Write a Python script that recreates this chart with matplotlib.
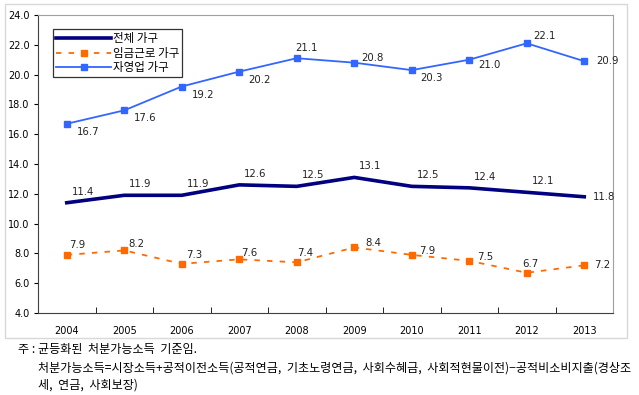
import matplotlib
matplotlib.use("Agg")
import matplotlib.pyplot as plt
from matplotlib.patches import Rectangle
from matplotlib.ticker import FixedLocator

plt.rcParams['font.family'] = ['Noto Sans CJK KR', 'DejaVu Sans']

years = ['2004', '2005', '2006', '2007', '2008', '2009', '2010', '2011', '2012', '2013']
total = [11.4, 11.9, 11.9, 12.6, 12.5, 13.1, 12.5, 12.4, 12.1, 11.8]
wage = [7.9, 8.2, 7.3, 7.6, 7.4, 8.4, 7.9, 7.5, 6.7, 7.2]
self_emp = [16.7, 17.6, 19.2, 20.2, 21.1, 20.8, 20.3, 21.0, 22.1, 20.9]
series_names = ['전체 가구', '임금근로 가구', '자영업 가구']
yticks = [4, 6, 8, 10, 12, 14, 16, 18, 20, 22, 24]

# label offsets in pixels (dx, dy) - layout only
off_total = [(16, 11)] * 9 + [(20, 0)]
off_wage = [(10, 10), (12, 6), (12, 9), (10, 6), (8, 9), (19, 4), (15, 4), (16, 4), (4, 9), (18, 0)]
off_self = [(21, -8), (21, -8), (21, -8), (20, -8), (10, 10), (18, 5), (20, -8), (20, -5), (18, 7), (23, 0)]

navy = '#000080'
orange = '#FF6A00'
blue = '#3366FF'

fig = plt.figure(figsize=(6.39, 3.95), dpi=100)
fig.patches.append(Rectangle((5 / 639, 1 - 338 / 395), 622 / 639, 334 / 395,
                             transform=fig.transFigure, fill=False,
                             edgecolor='#d8d8d8', linewidth=1))
ax = fig.add_axes([38 / 639, 1 - 313 / 395, 575 / 639, 298 / 395])

x = list(range(len(years)))
ax.plot(x, total, color=navy, linewidth=2.6, label=series_names[0])
ax.plot(x, wage, color=orange, linewidth=1.3, linestyle=(0, (3, 4)),
        marker='s', markersize=4, label=series_names[1])
ax.plot(x, self_emp, color=blue, linewidth=1.3, marker='s', markersize=4,
        label=series_names[2])

for vals, offs in [(total, off_total), (wage, off_wage), (self_emp, off_self)]:
    for i, v in enumerate(vals):
        dx, dy = offs[i]
        ax.annotate(f'{v:.1f}', (i, v), xytext=(dx * 0.72, dy * 0.72),
                    textcoords='offset points', ha='center', va='center',
                    fontsize=7.3, family='DejaVu Sans', color='#222222')

ax.set_xlim(-0.5, len(years) - 0.5)
ax.set_ylim(4, 24)
ax.set_yticks(yticks)
ax.set_yticklabels([f'{t:.1f}' for t in yticks], family='DejaVu Sans', fontsize=7)
ax.set_xticks(x)
ax.set_xticklabels(years, family='DejaVu Sans', fontsize=7)
ax.xaxis.set_minor_locator(FixedLocator([i + 0.5 for i in range(len(years) - 1)]))
ax.tick_params(axis='x', which='major', length=0, pad=9)
ax.tick_params(axis='x', which='minor', length=4, direction='in')
ax.tick_params(axis='y', length=3, direction='out', pad=3)
for s in ['left', 'bottom']:
    ax.spines[s].set_color('#404040')
for s in ['top', 'right']:
    ax.spines[s].set_color('#a0a0a0')

leg = ax.legend(loc='upper left', bbox_to_anchor=(15 / 575, 1 - 14 / 298),
                fontsize=8.3, frameon=True, fancybox=False, edgecolor='black',
                handlelength=4.8, handletextpad=0.15, borderpad=0.25,
                labelspacing=0.15, borderaxespad=0)
leg.get_frame().set_linewidth(0.9)

fig.text(18 / 639, 1 - 350 / 395, '주 : 균등화된  처분가능소득  기준임.', fontsize=8.7, va='center')
fig.text(38 / 639, 1 - 368 / 395,
         '처분가능소득=시장소득+공적이전소득(공적연금,  기초노령연금,  사회수혜금,  사회적현물이전)−공적비소비지출(경상조',
         fontsize=8.7, va='center')
fig.text(38 / 639, 1 - 385 / 395, '세,  연금,  사회보장)', fontsize=8.7, va='center')

fig.savefig('out.png', dpi=100)
